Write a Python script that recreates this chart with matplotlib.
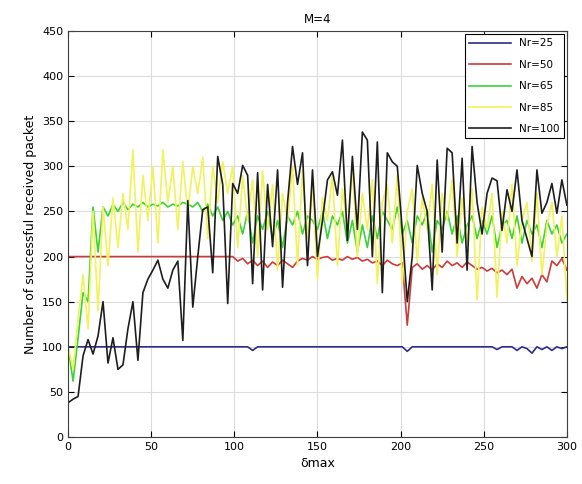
import numpy as np
import matplotlib
matplotlib.use("Agg")
import matplotlib.pyplot as plt

# delta max sampled every 3 units
delta_max = np.arange(0, 301, 3)

nr25 = [100] * 101
for i, v in [(37, 96), (68, 95), (86, 97), (90, 96), (92, 98), (93, 93), (95, 97), (97, 96), (99, 98)]:
    nr25[i] = v

nr50 = [200] * 34 + [
    195, 198, 192, 196, 190, 195, 188, 194, 190, 196, 192, 188, 195, 198, 196, 200,
    197, 199, 200, 196, 198, 196, 200, 197, 199, 195, 197, 193, 195, 190, 196, 192,
    190, 193, 124, 188, 192, 186, 190, 185, 192, 188, 195, 190, 193, 188, 194, 190,
    186, 188, 184, 187, 182, 185, 180, 186, 165, 178, 170, 176, 165, 180, 172, 195,
    190, 198, 185]

nr65 = [
    100, 62, 110, 160, 150, 255, 205, 255, 245, 258, 250, 260, 252, 258, 255, 260,
    255, 258, 256, 260, 255, 258, 256, 260, 258, 255, 260, 250, 258, 245, 255, 240,
    250, 235, 245, 225, 250, 215, 245, 230, 250, 220, 240, 210, 245, 235, 250, 225,
    245, 240, 230, 250, 220, 245, 235, 250, 215, 240, 205, 235, 210, 245, 220, 250,
    240, 230, 255, 225, 240, 215, 245, 235, 250, 205, 240, 230, 250, 225, 245, 215,
    235, 245, 220, 240, 225, 245, 210, 235, 240, 220, 245, 215, 240, 225, 235, 210,
    240, 225, 235, 215, 225]

nr85 = [
    100, 75, 130, 180, 120, 250, 140, 255, 190, 265, 210, 270, 230, 318, 205, 290,
    240, 300, 215, 318, 260, 300, 230, 305, 250, 300, 270, 310, 220, 300, 260, 305,
    270, 300, 210, 290, 240, 285, 200, 295, 230, 280, 185, 270, 240, 300, 190, 295,
    220, 280, 175, 265, 240, 290, 190, 275, 230, 300, 200, 270, 230, 285, 170, 260,
    280, 215, 290, 170, 250, 275, 195, 265, 230, 280, 180, 270, 240, 285, 200, 265,
    215, 275, 152, 255, 230, 270, 155, 250, 215, 280, 190, 240, 260, 195, 270, 180,
    235, 260, 200, 245, 152]

nr100 = [
    38, 42, 45, 90, 108, 92, 112, 150, 82, 110, 75, 80, 120, 150, 85, 160,
    175, 185, 196, 175, 165, 185, 195, 107, 262, 144, 200, 252, 255, 182, 311, 280,
    148, 281, 270, 301, 290, 170, 293, 163, 280, 211, 296, 166, 260, 322, 280, 315,
    190, 296, 200, 240, 285, 294, 268, 329, 218, 311, 230, 338, 329, 200, 327, 160,
    315, 305, 300, 229, 150, 200, 301, 270, 250, 163, 307, 205, 320, 315, 215, 309,
    185, 322, 260, 225, 270, 287, 284, 229, 274, 250, 296, 240, 220, 200, 296, 248,
    260, 281, 248, 285, 257]

series = [nr25, nr50, nr65, nr85, nr100]
labels = ["Nr=25", "Nr=50", "Nr=65", "Nr=85", "Nr=100"]
colors = ["#2e2e86", "#cc3b3b", "#3ad23a", "#f2f25a", "#1e1e1e"]

fig = plt.figure(figsize=(5.82, 4.84), dpi=100)
ax = fig.add_axes([0.117, 0.097, 0.857, 0.839])

for ys, lab, c in zip(series, labels, colors):
    ax.plot(delta_max, ys, color=c, lw=1.2, label=lab)

ax.set_xlim(0, 300)
ax.set_ylim(0, 450)
ax.set_xticks(np.arange(0, 301, 50))
ax.set_yticks(np.arange(0, 451, 50))
ax.grid(True, color="#dcdcdc", lw=0.8)
ax.set_axisbelow(True)
ax.tick_params(direction="in", top=True, right=True, labelsize=8, length=4)
for s in ax.spines.values():
    s.set_color("#404040")

ax.set_title("M=4", fontsize=8.5)
ax.set_xlabel("δmax", fontsize=9)
ax.set_ylabel("Number of successful received packet", fontsize=9)

leg = ax.legend(loc="upper right", fontsize=7.5, handlelength=4, labelspacing=1.1,
                fancybox=False, edgecolor="black", framealpha=1, borderaxespad=0.3)
leg.get_frame().set_linewidth(0.8)

fig.savefig("out.png", dpi=100)
